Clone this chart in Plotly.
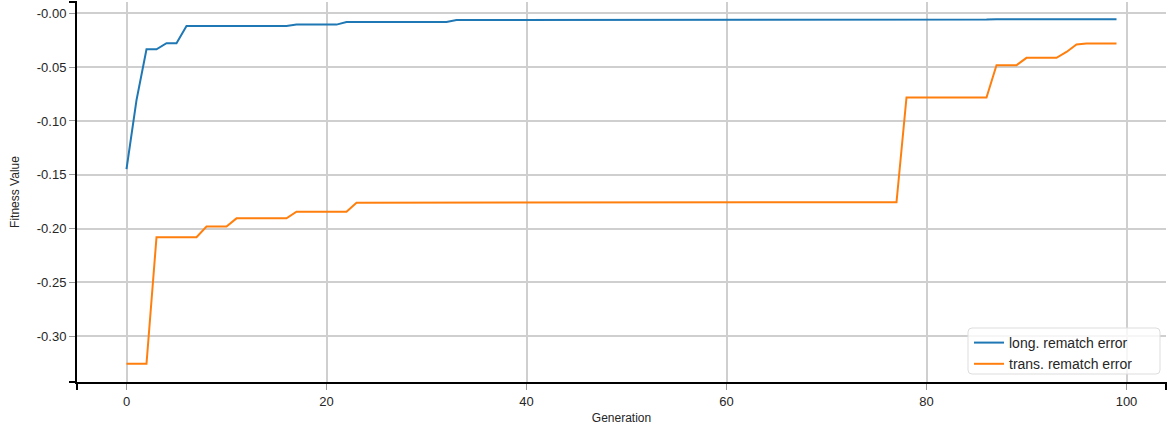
import plotly.graph_objects as go

# Generation index
generations = list(range(100))

# Best fitness per generation, longitudinal rematch error
long_error = (
    [-0.1447, -0.0807, -0.0334, -0.0334, -0.0278, -0.0278]
    + [-0.0118] * 11      # 6..16
    + [-0.0105] * 5       # 17..21
    + [-0.0081] * 11      # 22..32
    + [-0.0062] * 43      # 33..75
    + [-0.0058] * 11      # 76..86
    + [-0.0055] * 13      # 87..99
)

# Best fitness per generation, transverse rematch error
trans_error = (
    [-0.3256] * 3         # 0..2
    + [-0.2080] * 5       # 3..7
    + [-0.1980] * 3       # 8..10
    + [-0.1905] * 6       # 11..16
    + [-0.1843] * 6       # 17..22
    + [-0.1760] * 44      # 23..66
    + [-0.1755] * 11      # 67..77
    + [-0.0782] * 9       # 78..86
    + [-0.0482] * 3       # 87..89
    + [-0.0414] * 4       # 90..93
    + [-0.0359, -0.0290]  # 94, 95
    + [-0.0281] * 4       # 96..99
)

series_names = ["long. rematch error", "trans. rematch error"]
series_colors = ["#1f77b4", "#ff7f0e"]

x_ticks = [0, 20, 40, 60, 80, 100]
y_ticks = [0.0, -0.05, -0.10, -0.15, -0.20, -0.25, -0.30]
y_tick_text = ["-0.00", "-0.05", "-0.10", "-0.15", "-0.20", "-0.25", "-0.30"]

W, H = 1169, 429
M_L, M_R, M_T, M_B = 77, 3, 2, 47
PW, PH = W - M_L - M_R, H - M_T - M_B

FONT = "Liberation Sans, Arial, Helvetica, sans-serif"
TEXT = "#262626"
GRID = "#cfcfcf"

fig = go.Figure()
for name, ys, col in zip(series_names, [long_error, trans_error], series_colors):
    fig.add_trace(go.Scatter(
        x=generations, y=ys, mode="lines", name=name,
        line=dict(color=col, width=2),
    ))


def px_x(p):
    return (p - M_L) / PW


def px_y(p):
    return (H - M_B - p) / PH


# outer end ticks of the two axis lines
tick = 8
end_ticks = [
    (px_x(M_L - tick), 1, 0, 1),
    (px_x(M_L - tick), 0, 0, 0),
    (0, 0, 0, -tick / PH),
    (1, 0, 1, -tick / PH),
]
shapes = [
    dict(type="line", xref="paper", yref="paper", x0=a, y0=b, x1=c, y1=d,
         line=dict(color="black", width=2), layer="above")
    for a, b, c, d in end_ticks
]

# rounded legend frame
lx0, lx1 = px_x(968), px_x(1160)
ly1, ly0 = px_y(328), px_y(374)
rx, ry = 4 / PW, 4 / PH
path = (
    f"M{lx0 + rx},{ly1} L{lx1 - rx},{ly1} Q{lx1},{ly1} {lx1},{ly1 - ry} "
    f"L{lx1},{ly0 + ry} Q{lx1},{ly0} {lx1 - rx},{ly0} "
    f"L{lx0 + rx},{ly0} Q{lx0},{ly0} {lx0},{ly0 + ry} "
    f"L{lx0},{ly1 - ry} Q{lx0},{ly1} {lx0 + rx},{ly1} Z"
)
shapes.append(dict(type="path", xref="paper", yref="paper", path=path,
                   fillcolor="rgba(255,255,255,0.8)",
                   line=dict(color="#dddddd", width=1), layer="above"))

fig.update_layout(
    width=W, height=H,
    margin=dict(l=M_L, r=M_R, t=M_T, b=M_B, pad=0),
    paper_bgcolor="white", plot_bgcolor="white",
    font=dict(family=FONT, size=13, color=TEXT),
    shapes=shapes,
    showlegend=True,
    legend=dict(
        x=px_x(969), y=px_y(327), xanchor="left", yanchor="top",
        bgcolor="rgba(0,0,0,0)", borderwidth=0,
        font=dict(family=FONT, size=14, color=TEXT),
        tracegroupgap=0,
    ),
    xaxis=dict(
        range=[-4.95, 103.95], tickmode="array", tickvals=x_ticks,
        showgrid=True, gridcolor=GRID, gridwidth=1.5, zeroline=False,
        showline=True, linecolor="black", linewidth=2,
        ticks="outside", ticklen=6, tickcolor="#999999", tickwidth=1,
        tickfont=dict(size=13, color=TEXT),
        title=dict(text="Generation", font=dict(size=12, color=TEXT), standoff=6),
    ),
    yaxis=dict(
        range=[-0.3425, 0.0105], tickmode="array", tickvals=y_ticks,
        ticktext=y_tick_text,
        showgrid=True, gridcolor=GRID, gridwidth=1.5, zeroline=False,
        showline=True, linecolor="black", linewidth=2,
        ticks="outside", ticklen=6, tickcolor="#999999", tickwidth=1,
        tickfont=dict(size=13, color=TEXT),
        title=dict(text="Fitness Value", font=dict(size=12, color=TEXT), standoff=15),
    ),
)

fig.write_html("out.html")
